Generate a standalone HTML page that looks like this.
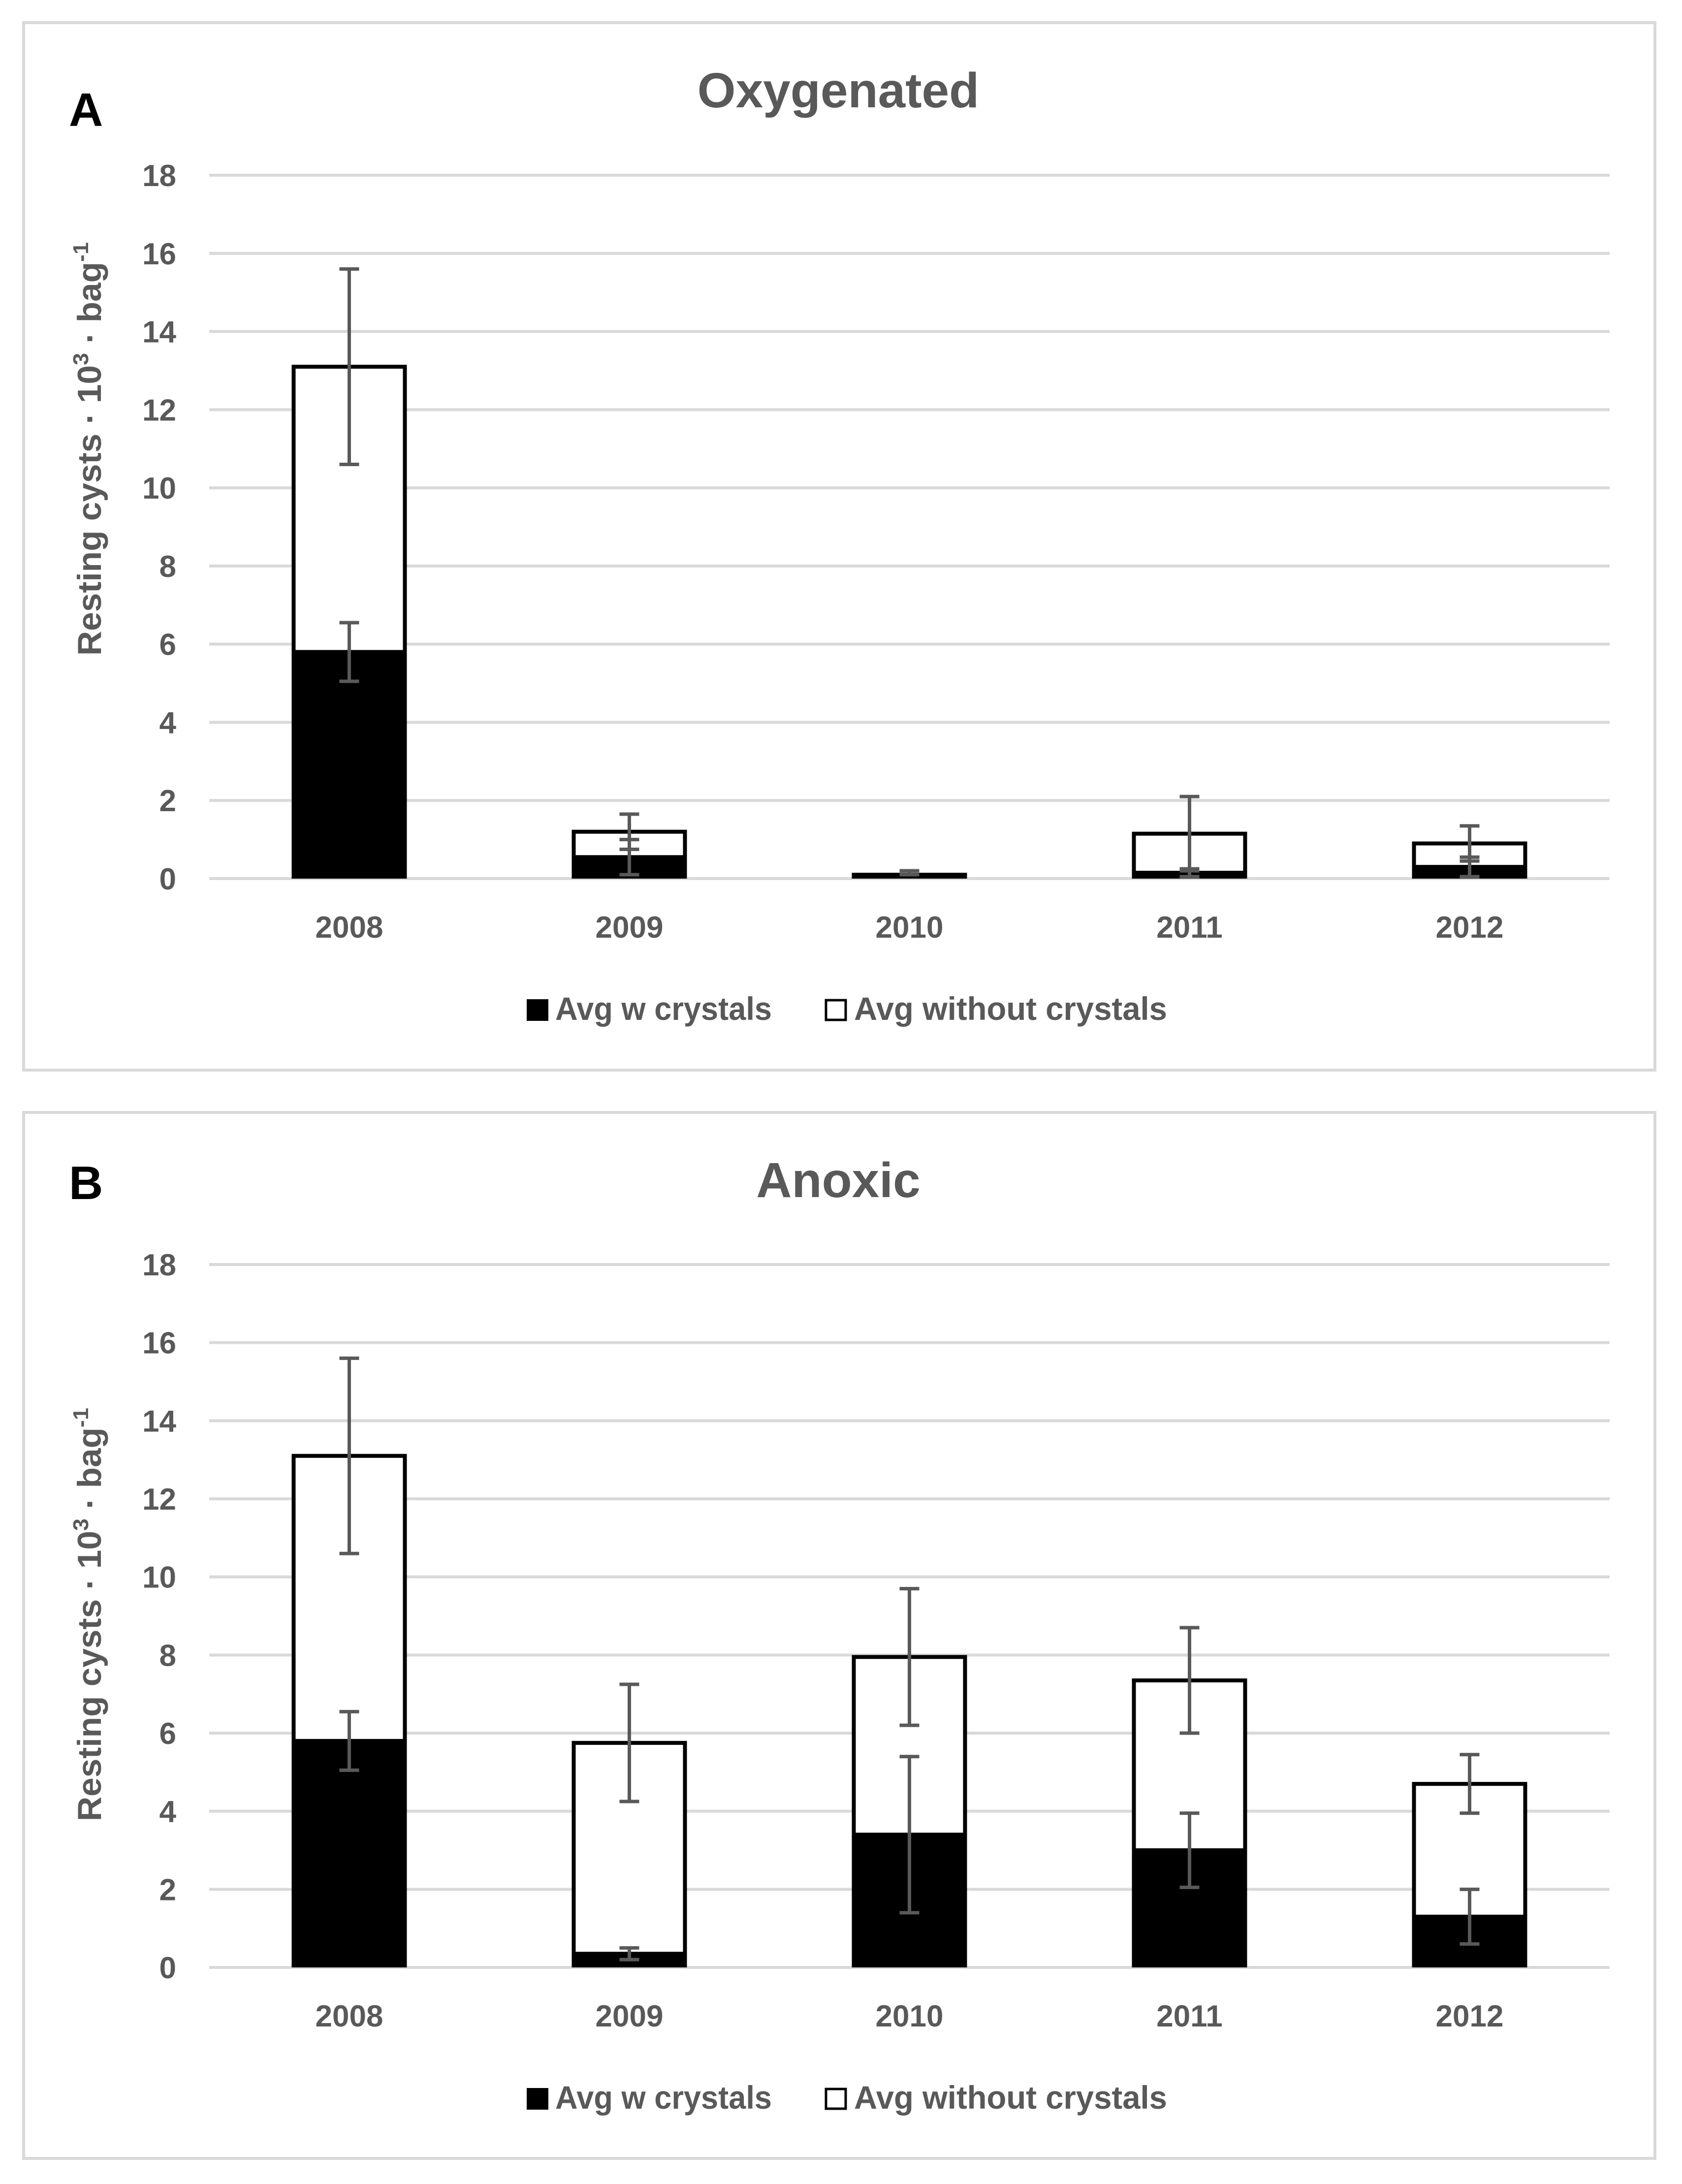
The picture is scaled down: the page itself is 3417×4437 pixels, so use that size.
<!DOCTYPE html>
<html><head><meta charset="utf-8"><style>
html,body{margin:0;padding:0;background:#fff;}
svg{display:block;font-family:"Liberation Sans",Arial,sans-serif;}
</style></head><body>
<svg id="chart" width="3417" height="4437" viewBox="0 0 3417 4437" xmlns="http://www.w3.org/2000/svg"></svg>
<script>
const categories = ["2008","2009","2010","2011","2012"];
const yTicks = [0,2,4,6,8,10,12,14,16,18];
const oxyWith = [5.8, 0.55, 0.15, 0.15, 0.3];
const oxyWithErr = [0.75, 0.45, 0.05, 0.1, 0.25];
const oxyTotal = [13.1, 1.2, 0.15, 1.15, 0.9];
const oxyTotalErr = [2.5, 0.45, 0.05, 0.95, 0.45];
const anoWith = [5.8, 0.35, 3.4, 3.0, 1.3];
const anoWithErr = [0.75, 0.15, 2.0, 0.95, 0.7];
const anoTotal = [13.1, 5.75, 7.95, 7.35, 4.7];
const anoTotalErr = [2.5, 1.5, 1.75, 1.35, 0.75];

const NS = "http://www.w3.org/2000/svg";
const svg = document.getElementById("chart");
function mk(tag, attrs, parent){
  const e = document.createElementNS(NS, tag);
  for (const k in attrs) e.setAttribute(k, attrs[k]);
  (parent||svg).appendChild(e);
  return e;
}
function panel(key, top, bottom, title, letter, letterOff, y0, y18, ytCenter, withV, withE, totV, totE){
  const g = mk("g", {});
  
  
  const border = mk("rect", {x:48, y:top, width:3314, height:bottom-top, fill:"#fff", stroke:"#d9d9d9", "stroke-width":6}, g);
  
  
  const ttl = mk("text", {x:1703, y:top+172, "text-anchor":"middle", "font-size":100, "font-weight":"bold", fill:"#595959"}, g);
  ttl.textContent = title;
  
  
  const lt = mk("text", {x:140, y:top+letterOff, "font-size":96, "font-weight":"bold", fill:"#000"}, g);
  lt.textContent = letter;
  
  
  const L = 425, R = 3270;
  const ys = v => y0 - (v/18)*(y0 - y18);
  const band = (R-L)/categories.length;
  const xc = i => L + band*(i+0.5);
  const bw = 234;
  yTicks.forEach(t=>{
    const gl = mk("line", {x1:L, x2:R, y1:ys(t), y2:ys(t), stroke:"#d9d9d9", "stroke-width":6}, g);
    
    
    const tl = mk("text", {x:358, y:ys(t)+22, "text-anchor":"end", "font-size":62, "font-weight":"bold", fill:"#595959"}, g);
    tl.textContent = t;
    
    
  });
  const yt = mk("text", {transform:"translate(205,"+ytCenter+") rotate(-90)", "text-anchor":"middle", "font-size":68, "font-weight":"bold", fill:"#595959", textLength:840, lengthAdjust:"spacingAndGlyphs"}, g);
  yt.innerHTML = 'Resting cysts · 10<tspan dy="-26" font-size="44">3</tspan><tspan dy="26"> · bag</tspan><tspan dy="-26" font-size="44">-1</tspan>';
  
  
  categories.forEach((c,i)=>{
    const x = xc(i);
    const wb = mk("rect", {x:x-bw/2+4, y:ys(totV[i]), width:bw-8, height:Math.max(0, ys(withV[i])-ys(totV[i])), fill:"#fff", stroke:"#000", "stroke-width":8}, g);
    
    
    const bb = mk("rect", {x:x-bw/2, y:ys(withV[i]), width:bw, height:ys(0)-ys(withV[i]), fill:"#000"}, g);
    
    
    [[totV[i], totE[i], 'total'], [withV[i], withE[i], 'with']].forEach(([v,e,n])=>{
      const eg = mk("g", {stroke:"#595959", "stroke-width":7}, g);
      
      
      mk("line", {x1:x, x2:x, y1:ys(v+e), y2:ys(Math.max(0,v-e))}, eg);
      mk("line", {x1:x-20, x2:x+20, y1:ys(v+e), y2:ys(v+e)}, eg);
      mk("line", {x1:x-20, x2:x+20, y1:ys(Math.max(0,v-e)), y2:ys(Math.max(0,v-e))}, eg);
    });
    const cl = mk("text", {x:x, y:y0+120, "text-anchor":"middle", "font-size":62, "font-weight":"bold", fill:"#595959"}, g);
    cl.textContent = c;
    
    
  });
  const ly = y0 + 287;
  const l1 = mk("rect", {x:1070, y:ly-42, width:44, height:44, fill:"#000"}, g);
  
  
  const t1 = mk("text", {x:1128, y:ly, "font-size":66, "font-weight":"bold", fill:"#595959", textLength:440, lengthAdjust:"spacingAndGlyphs"}, g);
  t1.textContent = "Avg w crystals";
  
  
  const l2 = mk("rect", {x:1678, y:ly-40, width:40, height:40, fill:"#fff", stroke:"#000", "stroke-width":5}, g);
  
  
  const t2 = mk("text", {x:1735, y:ly, "font-size":66, "font-weight":"bold", fill:"#595959", textLength:636, lengthAdjust:"spacingAndGlyphs"}, g);
  t2.textContent = "Avg without crystals";
  
  
}
panel("oxygenated", 46, 2174, "Oxygenated", "A", 210, 1785, 356, 912, oxyWith, oxyWithErr, oxyTotal, oxyTotalErr);
panel("anoxic", 2260, 4385, "Anoxic", "B", 176, 3997, 2569, 3280, anoWith, anoWithErr, anoTotal, anoTotalErr);
</script>
</body></html>
